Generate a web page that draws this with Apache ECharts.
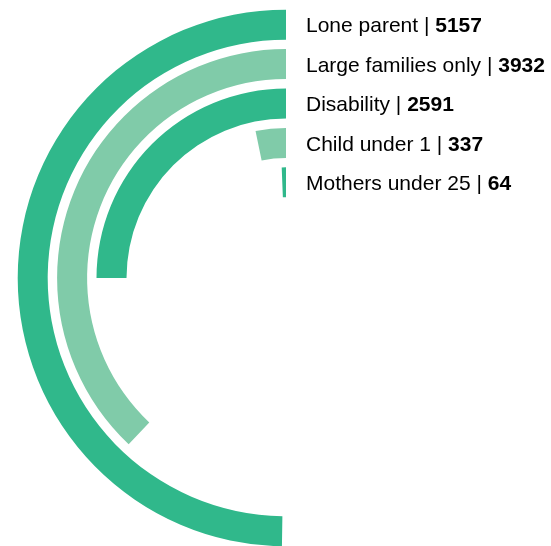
<!DOCTYPE html>
<html>
<head>
<meta charset="utf-8">
<script src="https://cdn.jsdelivr.net/npm/echarts@6/dist/echarts.min.js"></script>
<style>
  html, body { margin: 0; padding: 0; background: #ffffff; }
  #chart { width: 551px; height: 546px; }
</style>
</head>
<body>
<div id="chart"></div>
<script>
// Households by category (outermost ring first)
const categories = ['Lone parent', 'Large families only', 'Disability', 'Child under 1', 'Mothers under 25'];
const values = [5157, 3932, 2591, 337, 64];
const ringColors = ['#30b88b', '#80cba9', '#30b88b', '#80cba9', '#30b88b'];

// full turn of the angle axis
const angleMax = 10364;

const chart = echarts.init(document.getElementById('chart'), null, { renderer: 'canvas' });

const barData = values.map((v, i) => ({
  value: v,
  itemStyle: { color: ringColors[i] }
}));

const labelData = categories.map((c, i) => ({
  value: [c, 0],
  label: { formatter: '{n|' + c + ' | }{v|' + values[i] + '}' }
}));

chart.setOption({
  animation: false,
  backgroundColor: '#ffffff',
  polar: {
    center: [286, 278],
    radius: [76, 273]
  },
  angleAxis: {
    type: 'value',
    min: 0,
    max: angleMax,
    startAngle: 90,
    clockwise: false,
    show: false
  },
  radiusAxis: {
    type: 'category',
    data: categories,
    inverse: true,
    show: false
  },
  series: [
    {
      type: 'bar',
      coordinateSystem: 'polar',
      data: barData,
      barWidth: 30,
      silent: true
    },
    {
      type: 'scatter',
      coordinateSystem: 'polar',
      data: labelData,
      symbolSize: 0,
      silent: true,
      itemStyle: { opacity: 1 },
      label: {
        show: true,
        position: 'right',
        distance: 20,
        offset: [0, 2],
        color: '#000000',
        textBorderWidth: 0,
        rich: {
          n: {
            fontFamily: 'Liberation Sans, Arial, sans-serif',
            fontSize: 21,
            color: '#000000'
          },
          v: {
            fontFamily: 'Liberation Sans, Arial, sans-serif',
            fontSize: 21,
            fontWeight: 'bold',
            color: '#000000'
          }
        }
      }
    }
  ]
});
</script>
</body>
</html>
